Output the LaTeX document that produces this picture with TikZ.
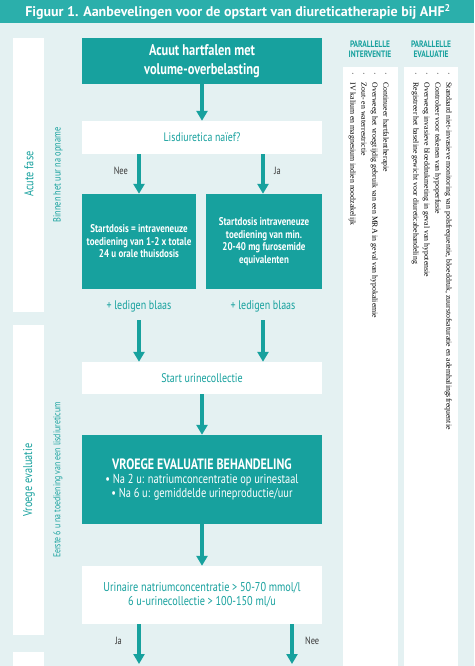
\documentclass[tikz,border=0pt]{standalone}
\usepackage{fontspec}
\setmainfont{PT Sans}[FakeStretch=0.8]
\newfontfamily\titlefont{PT Sans}
\newfontfamily\colfont{Liberation Serif}
\usetikzlibrary{arrows.meta}
\definecolor{afteal}{HTML}{17A19E}
\definecolor{afbar}{HTML}{2BAFAB}
\definecolor{aflight}{HTML}{E4F1F2}
\definecolor{afgray}{HTML}{3A3A3A}
\begin{document}
\begin{tikzpicture}[x=1pt,y=-1pt,
    tealbox/.style={fill=afteal, text=white, align=center, inner sep=0pt, minimum width=240pt},
    whitebox/.style={fill=white, text=afteal, align=center, inner sep=0pt, minimum width=240pt},
    flow/.style={draw=afteal, line width=3.6pt, -{Triangle[width=11pt,length=10pt]}},
    answer/.style={text=afgray, font=\fontsize{10.5}{12}\selectfont},
    sidetitle/.style={text=afteal, rotate=90, font=\fontsize{12.8}{15}\selectfont},
    sidenote/.style={text=afteal, rotate=90, font=\fontsize{10.4}{12}\selectfont},
    colhead/.style={text=afteal, align=center, font=\bfseries\fontsize{9.3}{10}\selectfont},
    coltext/.style={rotate=-90, anchor=north west, align=left, inner sep=0pt,
      font=\colfont\fontsize{7.8}{11}\selectfont}]
    % achtergrond en titel
    \useasboundingbox (0,0) rectangle (474,666);
    \fill[aflight] (0,23) rectangle (474,666);
    \fill[afbar] (0,0) rectangle (474,23);
    \node[text=white, font=\titlefont\bfseries\fontsize{14}{16}\selectfont] (title) at (238,12)
      {Figuur 1. Aanbevelingen voor de opstart van diureticatherapie bij AHF\textsuperscript{2}};
    % witte stroken links en kolommen rechts
    \fill[white] (13,38) rectangle (44,312);
    \fill[white] (13,325) rectangle (44,635);
    \fill[white] (13,652) rectangle (44,666);
    \fill[white] (343,67) rectangle (398,666);
    \fill[white] (404,67) rectangle (458,666);
    % fasen
    \node[sidetitle] (acute) at (29,174) {Acute fase};
    \node[sidenote] (binnen) at (58,175) {Binnen het uur na opname};
    \node[sidetitle] (vroeg) at (29,480) {Vroege evaluatie};
    \node[sidenote, font=\fontsize{9.8}{12}\selectfont] (eerste) at (58,480) {Eerste 6 u na toediening van een lisdiureticum};
    % stroomschema
    \node[tealbox, minimum height=46pt, font=\bfseries\fontsize{15.5}{19}\selectfont] (acuut) at (202,61)
      {Acuut hartfalen met\\volume-overbelasting};
    \node[whitebox, minimum height=33pt, font=\fontsize{12.3}{14}\selectfont] (naief) at (202,137.5)
      {Lisdiuretica naïef?};
    \node[tealbox, minimum width=114pt, minimum height=95pt, font=\bfseries\fontsize{11.2}{12.5}\selectfont] (startA) at (139,241.5)
      {Startdosis = intraveneuze\\toediening van 1-2 x totale\\24 u orale thuisdosis};
    \node[tealbox, minimum width=116pt, minimum height=95pt, font=\bfseries\fontsize{11.2}{12.5}\selectfont] (startB) at (264,241.5)
      {Startdosis intraveneuze\\toediening van min.\\20-40 mg furosemide\\equivalenten};
    \node[text=afteal, minimum height=28pt, inner sep=0pt, font=\fontsize{12.5}{14}\selectfont] (blaasA) at (139,306) {+ ledigen blaas};
    \node[text=afteal, minimum height=28pt, inner sep=0pt, font=\fontsize{12.5}{14}\selectfont] (blaasB) at (263,306) {+ ledigen blaas};
    \node[whitebox, minimum height=32pt, font=\fontsize{12.5}{14}\selectfont] (urine) at (202,378)
      {Start urinecollectie};
    \node[tealbox, minimum height=89pt, font=\fontsize{13}{14}\selectfont] (evaluatie) at (202,479.5)
      {{\bfseries\fontsize{15}{15}\selectfont VROEGE EVALUATIE BEHANDELING}\\
       \textbullet{} Na 2 u: natriumconcentratie op urinestaal\\
       \textbullet{} Na 6 u: gemiddelde urineproductie/uur};
    \node[whitebox, minimum height=58pt, font=\fontsize{12.8}{14}\selectfont] (natrium) at (202,595)
      {Urinaire natriumconcentratie > 50-70 mmol/l\\6 u-urinecollectie > 100-150 ml/u};
    \coordinate (jaend) at (139,664);
    \coordinate (neeend) at (292,664);
    % pijlen
    \draw[flow] (acuut) -- (naief);
    \draw[flow] (naief.south -| startA) -- (startA.north) node[answer, pos=0.41, left=6pt] {Nee};
    \draw[flow] (naief.south -| blaasB) -- (startB.north -| blaasB) node[answer, pos=0.41, right=6pt] {Ja};
    \draw[flow] (blaasA.south) -- (urine.north -| blaasA);
    \draw[flow] (blaasB.south) -- (urine.north -| blaasB);
    \draw[flow] (urine) -- (evaluatie);
    \draw[flow] (evaluatie) -- (natrium);
    \draw[flow] (natrium.south -| jaend) -- (jaend) node[answer, pos=0.42, left=12pt] {Ja};
    \draw[flow] (natrium.south -| neeend) -- (neeend) node[answer, pos=0.42, right=8pt] {Nee};
    % parallelle kolommen
    \node[colhead] (hinterv) at (370,49) {PARALLELLE\\INTERVENTIE};
    \node[colhead] (heval) at (431,49) {PARALLELLE\\EVALUATIE};
    \node[coltext] (interv) at (389,72)
      {·\quad Continueer hartfalentherapie\\
       ·\quad Overweeg het vroegtijdig gebruik van een MRA in geval van hypokaliemie\\
       ·\quad Zout- en waterrestrictie\\
       ·\quad IV kalium en magnesium indien noodzakelijk};
    \node[coltext] (evaluat) at (452,72)
      {·\quad Standaard niet-invasieve monitoring van polsfrequentie, bloeddruk, zuurstofsaturatie en ademhalingsfrequentie\\
       ·\quad Controleer voor tekenen van hypoperfusie\\
       ·\quad Overweeg invasieve bloeddrukmeting in geval van hypotensie\\
       ·\quad Registreer het baseline gewicht voor diureticabehandeling};
  \end{tikzpicture}
\end{document}
